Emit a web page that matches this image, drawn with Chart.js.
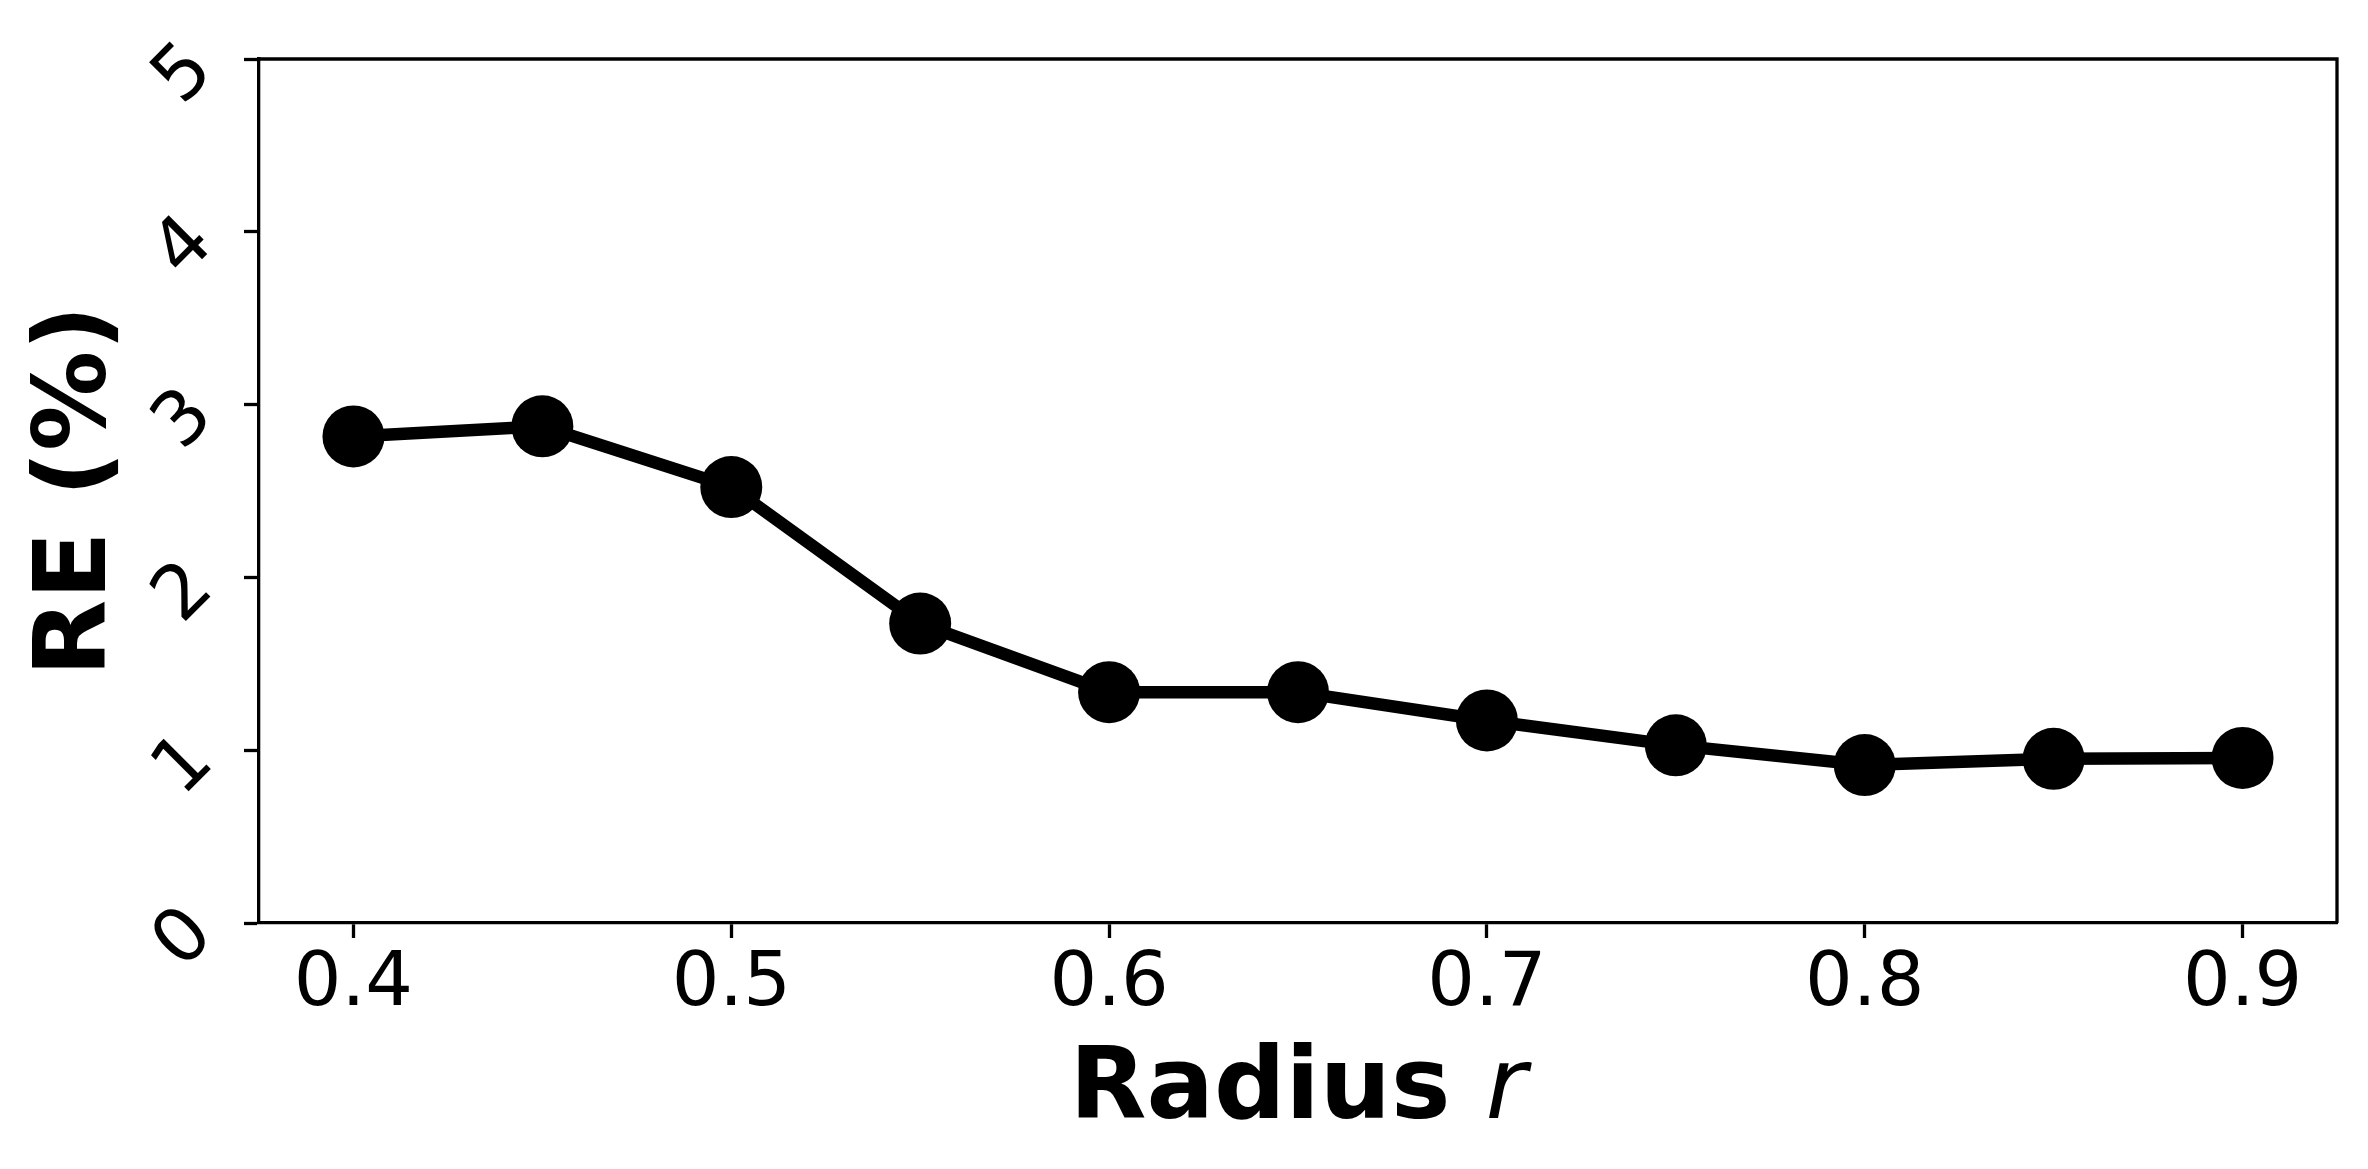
<!DOCTYPE html>
<html>
<head>
<meta charset="utf-8">
<style>
    html, body { margin: 0; padding: 0; background: #fff; }
    #chart { display: block; }
</style>
<script src="https://cdn.jsdelivr.net/npm/chart.js@4.4.1/dist/chart.umd.min.js"></script>
</head>
<body>
<canvas id="chart" width="2368" height="1169"></canvas>
<script>
// ---- data ----
const radius = [0.4, 0.45, 0.5, 0.55, 0.6, 0.65, 0.7, 0.75, 0.8, 0.85, 0.9];
const relError = [2.816, 2.874, 2.523, 1.733, 1.336, 1.336, 1.172, 1.028, 0.914, 0.950, 0.955];
const xTicks = [0.4, 0.5, 0.6, 0.7, 0.8, 0.9];
const yTicks = [0, 1, 2, 3, 4, 5];

const FONT = "'DejaVu Sans', 'Liberation Sans', sans-serif";
const LINE = 3.3;

// no label overflow padding, the plot box is pinned by layout padding
function noOverflow(s) {
    s.paddingTop = 0;
    s.paddingBottom = 0;
    s.paddingLeft = 0;
    s.paddingRight = 0;
}

// frame (top + right spines) and the two axis titles
const framePlugin = {
    id: 'frameAndTitles',
    afterDraw(chart) {
        const ctx = chart.ctx;
        const a = chart.chartArea;
        ctx.save();
        ctx.strokeStyle = '#000';
        ctx.lineWidth = LINE;
        ctx.beginPath();
        ctx.moveTo(a.left, a.top);
        ctx.lineTo(a.right, a.top);
        ctx.lineTo(a.right, a.bottom);
        ctx.stroke();

        ctx.fillStyle = '#000';
        ctx.textBaseline = 'alphabetic';

        // x title: bold "Radius " + italic "r"
        const boldFont = 'bold 100px ' + FONT;
        const italFont = 'italic 100px ' + FONT;
        ctx.font = boldFont;
        const w1 = ctx.measureText('Radius ').width;
        ctx.font = italFont;
        const w2 = ctx.measureText('r').width;
        const cx = (a.left + a.right) / 2;
        let x0 = cx - (w1 + w2) / 2;
        ctx.textAlign = 'left';
        ctx.font = boldFont;
        ctx.fillText('Radius ', x0, 1118);
        ctx.font = italFont;
        ctx.fillText('r', x0 + w1, 1118);

        // y title
        ctx.translate(105, (a.top + a.bottom) / 2);
        ctx.rotate(-Math.PI / 2);
        ctx.textAlign = 'center';
        ctx.font = boldFont;
        ctx.fillText('RE (%)', 0, 0);
        ctx.restore();
    }
};

new Chart(document.getElementById('chart'), {
    type: 'line',
    data: {
        datasets: [{
            label: 'RE',
            data: radius.map((r, i) => ({ x: r, y: relError[i] })),
            borderColor: '#000',
            backgroundColor: '#000',
            borderWidth: 12.5,
            pointRadius: 31,
            pointBorderWidth: 0,
            pointBackgroundColor: '#000',
            tension: 0,
            clip: false
        }]
    },
    options: {
        responsive: false,
        animation: false,
        events: [],
        layout: { padding: { left: 0, right: 29, top: 59, bottom: 0 } },
        plugins: {
            legend: { display: false },
            tooltip: { enabled: false }
        },
        scales: {
            x: {
                type: 'linear',
                min: 0.375,
                max: 0.925,
                afterBuildTicks: s => { s.ticks = xTicks.map(v => ({ value: v })); },
                afterFit: s => { s.height = 246; noOverflow(s); },
                grid: { drawOnChartArea: false, tickLength: 15, tickWidth: LINE, tickColor: '#000' },
                border: { display: true, color: '#000', width: LINE },
                ticks: {
                    color: '#000',
                    padding: 3,
                    maxRotation: 0,
                    font: { family: FONT, size: 75 },
                    callback: v => String(v)
                }
            },
            y: {
                min: 0,
                max: 5,
                afterBuildTicks: s => { s.ticks = yTicks.map(v => ({ value: v })); },
                afterFit: s => { s.width = 259; noOverflow(s); },
                grid: { drawOnChartArea: false, tickLength: 15, tickWidth: LINE, tickColor: '#000' },
                border: { display: true, color: '#000', width: LINE },
                ticks: {
                    color: '#000',
                    padding: 42,
                    minRotation: 45,
                    maxRotation: 45,
                    font: { family: FONT, size: 75 },
                    callback: v => String(v)
                }
            }
        }
    },
    plugins: [framePlugin]
});
</script>
</body>
</html>
